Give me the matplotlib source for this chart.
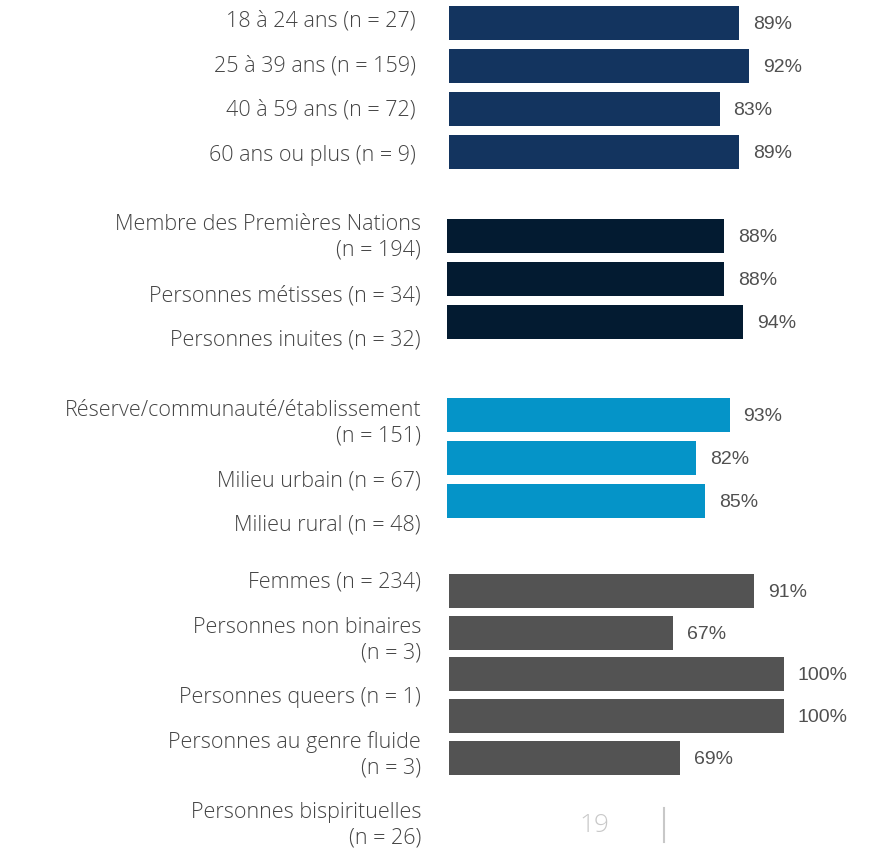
import numpy as np
import matplotlib.pyplot as plt

# data
age_labels = ["18 à 24 ans (n = 27)", "25 à 39 ans (n = 159)", "40 à 59 ans (n = 72)", "60 ans ou plus (n = 9)"]
age_values = [89, 92, 83, 89]

ident_labels = ["Membre des Premières Nations\n(n = 194)", "Personnes métisses (n = 34)", "Personnes inuites (n = 32)"]
ident_values = [88, 88, 94]

lieu_labels = ["Réserve/communauté/établissement\n(n = 151)", "Milieu urbain (n = 67)", "Milieu rural (n = 48)"]
lieu_values = [93, 82, 85]

genre_labels = ["Femmes (n = 234)", "Personnes non binaires\n(n = 3)", "Personnes queers (n = 1)",
                "Personnes au genre fluide\n(n = 3)", "Personnes bispirituelles\n(n = 26)"]
genre_values = [91, 67, 100, 100, 69]

page_number = "19"

W, H = 871, 851
FONT = "Open Sans"
TXT = "#444444"

fig = plt.figure(figsize=(W / 100, H / 100), dpi=100)
bg = fig.add_axes([0, 0, 1, 1])
bg.set_xlim(0, W)
bg.set_ylim(H, 0)
bg.axis("off")

# layout per group: (values, color, left px, top px, width px for 100%, pitch px, label right px, label y px)
groups = [
    (age_values, "#13345F", 449, 1.5, 326, 43, 416, [21, 66, 110, 155]),
    (ident_values, "#031B31", 447, 214.5, 315, 43, 421, [237, 296, 340]),
    (lieu_values, "#0594C8", 447, 393.5, 304, 43, 421, [423, 481, 525]),
    (genre_values, "#535353", 449, 570, 335, 41.75, 421, [582, 640, 697, 755, 825]),
]
all_labels = [age_labels, ident_labels, lieu_labels, genre_labels]

for (vals, color, left, top, w100, pitch, lab_x, lab_y), labels in zip(groups, all_labels):
    n = len(vals)
    h = n * pitch
    ax = fig.add_axes([left / W, 1 - (top + h) / H, w100 / W, h / H])
    ypos = np.arange(n)
    ax.barh(ypos, vals, height=34 / pitch, color=color)
    ax.set_xlim(0, 100)
    ax.set_ylim(n - 0.5, -0.5)
    ax.axis("off")
    for y, v in zip(ypos, vals):
        ax.annotate(f"{v}%", (v, y), xytext=(10, -1), textcoords="offset points",
                    va="center", ha="left", fontsize=14, color="#505050",
                    family="Liberation Sans", annotation_clip=False)
    for lab, ly in zip(labels, lab_y):
        bg.text(lab_x, ly, lab, ha="right", va="center", fontsize=15.5, color=TXT,
                family=FONT, weight="light", linespacing=1.3, multialignment="right")

bg.text(594, 826, page_number, ha="center", va="center", fontsize=19, color="#C8C8C8",
        family=FONT, weight="light")
bg.plot([664, 664], [808, 842], color="#C8C8C8", lw=1.5)

fig.savefig("out.png", dpi=100)
